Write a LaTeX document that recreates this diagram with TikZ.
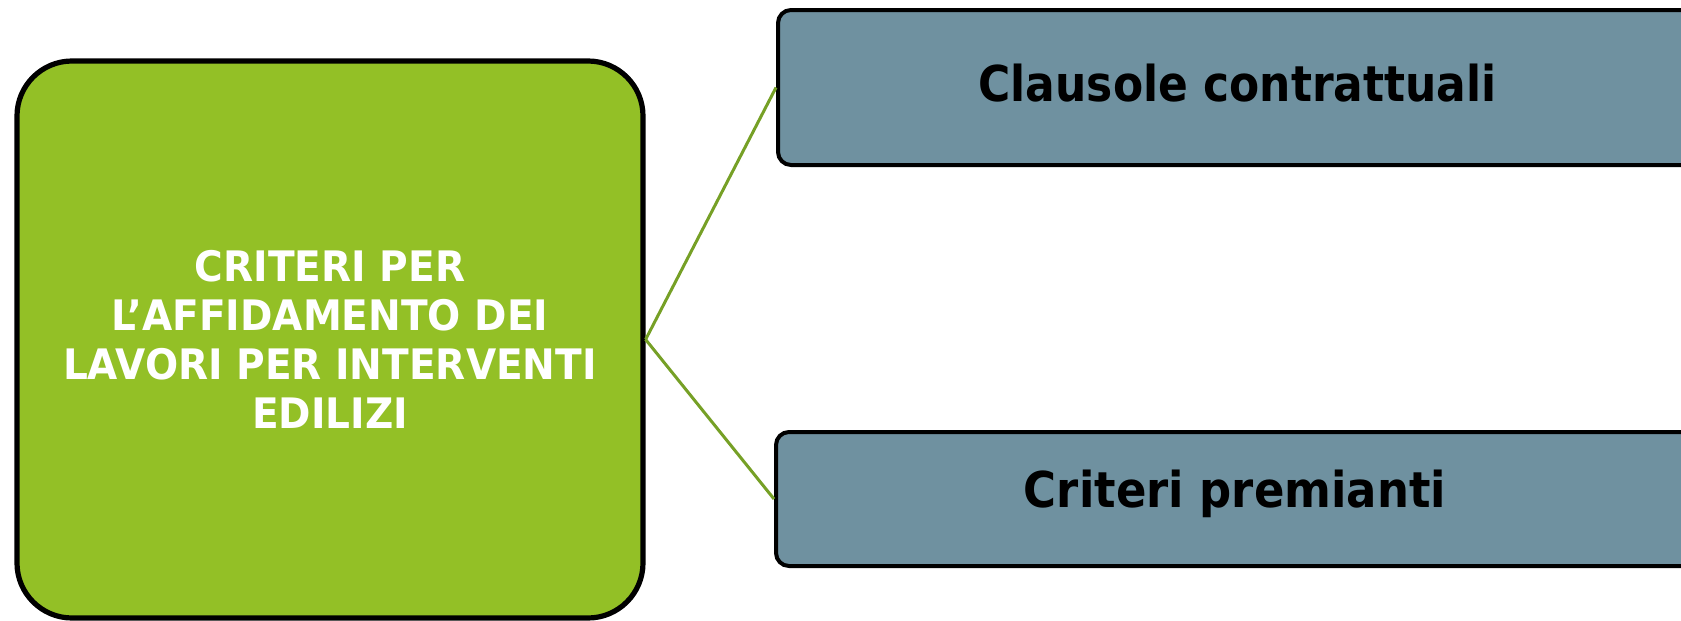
\documentclass[tikz,border=0pt]{standalone}
\usepackage{fontspec}
\newfontfamily\rfont[FakeStretch=0.89]{DejaVu Sans}
\newfontfamily\rfontb[FakeStretch=0.91]{DejaVu Sans}
\newfontfamily\lfont[FakeStretch=0.93]{DejaVu Sans}
\definecolor{boxgreen}{RGB}{147,192,38}
\definecolor{boxslate}{RGB}{111,145,160}
\definecolor{linkgreen}{RGB}{118,160,38}
\tikzset{
  mainbox/.style={draw=black, line width=2.6pt, fill=boxgreen, rounded corners=27.5pt,
    text=white, align=center, font=\lfont\bfseries\fontsize{21pt}{24.5pt}\selectfont, inner sep=0pt},
  itembox/.style={draw=black, line width=2pt, fill=boxslate, rounded corners=6.5pt, inner sep=0pt},
  itemtext/.style={anchor=base, text=black, inner sep=0pt},
  link/.style={draw=linkgreen, line width=1.5pt}
}
\begin{document}
\begin{tikzpicture}[x=0.5pt,y=-0.5pt]
\useasboundingbox (0,0) rectangle (1681,621);
\clip (0,0) rectangle (1681,621);
\node[mainbox, minimum width=313pt, minimum height=278.5pt] (main) at (330,339.5)
  {CRITERI PER\\L’AFFIDAMENTO DEI\\LAVORI PER INTERVENTI\\EDILIZI};
\node[itembox, minimum width=461pt, minimum height=77.5pt] (top) at (1239,87.5) {};
\node[itembox, minimum width=462pt, minimum height=67pt] (bot) at (1238,499) {};
\node[itemtext, font=\rfont\bfseries\fontsize{24.7pt}{29pt}\selectfont] (toptext) at (1237.5,101) {Clausole contrattuali};
\node[itemtext, font=\rfontb\bfseries\fontsize{24.7pt}{29pt}\selectfont] (bottext) at (1235,507) {Criteri premianti};
\draw[link] (main.east) -- (top.west);
\draw[link] (main.east) -- (bot.west);
\end{tikzpicture}
\end{document}
